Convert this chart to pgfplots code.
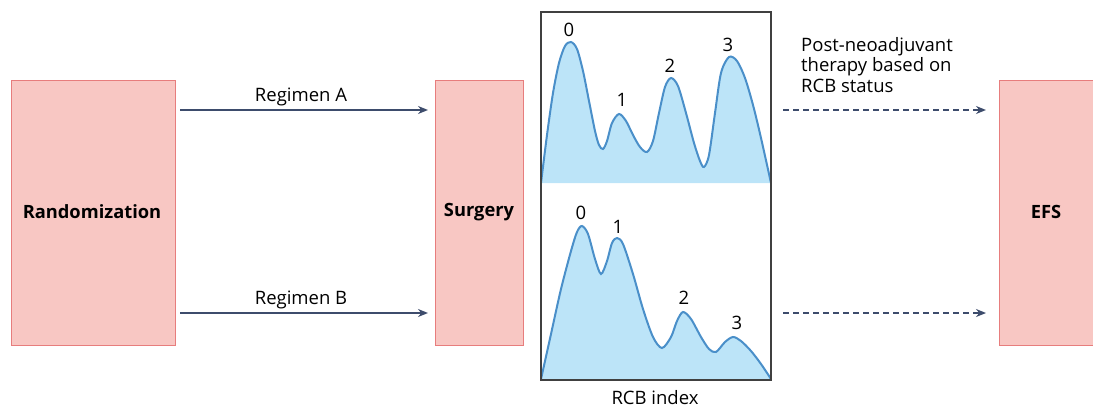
\documentclass[border=0pt]{standalone}
\usepackage{pgfplots}
\pgfplotsset{compat=1.18}
\usepackage{pgfplotstable}
\usepackage{fontspec}
\setmainfont{Open Sans}
\usetikzlibrary{arrows.meta}

\definecolor{boxfill}{HTML}{F8C7C3}
\definecolor{boxline}{HTML}{E77D7D}
\definecolor{arrowc}{HTML}{3D4C6C}
\definecolor{curvec}{HTML}{4A8FC9}
\definecolor{curvefill}{HTML}{BCE4F8}

% RCB distribution, regimen A (x: position across panel, y: density height)
\pgfplotstableread{
x y
0 0
6 48
12 90
18 120
24 137
30 141
36 134
42 112
48 82
54 52
58 38
62 34
66 42
71 60
78 69
85 62
92 48
99 36
106 31
112 42
118 70
124 96
130 105
137 97
145 70
153 40
159 22
163 16
168 28
174 70
180 110
188 126
196 122
204 105
212 78
220 45
230 0
}\regA

% RCB distribution, regimen B
\pgfplotstableread{
x y
0 0
10 45
20 90
30 128
36 147
41 153
47 145
54 120
60 105
66 118
71 136
76 141
82 135
92 105
102 70
112 42
121 31
130 42
136 58
142 67
150 60
160 42
168 30
175 27
184 37
192 42
200 38
210 28
220 15
230 0
}\regB

\begin{document}
\begin{tikzpicture}[x=1pt,y=1pt,font=\fontsize{18.5}{21}\selectfont]
\useasboundingbox (0,0) rectangle (1093,408);

% boxes
\draw[boxline, fill=boxfill, line width=0.8pt] (11,63) rectangle (175,328);
\node[font=\fontsize{18.3}{21}\selectfont\bfseries] at (92,196) {Randomization};
\draw[boxline, fill=boxfill, line width=0.8pt] (435,63) rectangle (523,328);
\node[font=\fontsize{18.3}{21}\selectfont\bfseries] at (479,196) {Surgery};
\draw[boxline, fill=boxfill, line width=0.8pt] (999,63) rectangle (1094,328);
\node[font=\fontsize{18.3}{21}\selectfont\bfseries] at (1046,196) {EFS};

% regimen arrows
\draw[arrowc, line width=2.5pt, -{Stealth[length=10pt,width=8pt]}] (180,298) -- (428,298);
\node[anchor=south, inner sep=2pt] at (301,300) {Regimen A};
\draw[arrowc, line width=2.5pt, -{Stealth[length=10pt,width=8pt]}] (180,95) -- (428,95);
\node[anchor=south, inner sep=2pt] at (301,97) {Regimen B};

% dotted arrows
\draw[arrowc, line width=2.5pt, dash pattern=on 5.5pt off 4.5pt, -{Stealth[length=10pt,width=8pt]}] (783,298) -- (986,298);
\draw[arrowc, line width=2.5pt, dash pattern=on 5.5pt off 4.5pt, -{Stealth[length=10pt,width=8pt]}] (783,95) -- (986,95);
\node[anchor=north west, align=left, inner sep=0pt, font=\fontsize{18.5}{20.5}\selectfont] at (801,371)
  {Post-neoadjuvant\\therapy based on\\RCB status};

% top panel
\begin{axis}[at={(541,225)}, anchor=south west, width=230pt, height=171pt,
  scale only axis, xmin=0, xmax=230, ymin=0, ymax=171, hide axis, clip=false]
\addplot[fill=curvefill, draw=none, smooth] table {\regA} \closedcycle;
\addplot[curvec, line width=2pt, smooth] table {\regA};
\node at (axis cs:28,153) {0};
\node at (axis cs:81,83) {1};
\node at (axis cs:129,117) {2};
\node at (axis cs:187,138) {3};
\end{axis}

% bottom panel
\begin{axis}[at={(541,29)}, anchor=south west, width=230pt, height=196pt,
  scale only axis, xmin=0, xmax=230, ymin=0, ymax=196, hide axis, clip=false]
\addplot[fill=curvefill, draw=none, smooth] table {\regB} \closedcycle;
\addplot[curvec, line width=2pt, smooth] table {\regB};
\node at (axis cs:40,166) {0};
\node at (axis cs:77,152) {1};
\node at (axis cs:143,81) {2};
\node at (axis cs:196,56) {3};
\end{axis}

% panel frame
\draw[black!75, line width=1.1pt] (541,28) rectangle (771,396);
\node at (655,10) {RCB index};
\end{tikzpicture}
\end{document}
